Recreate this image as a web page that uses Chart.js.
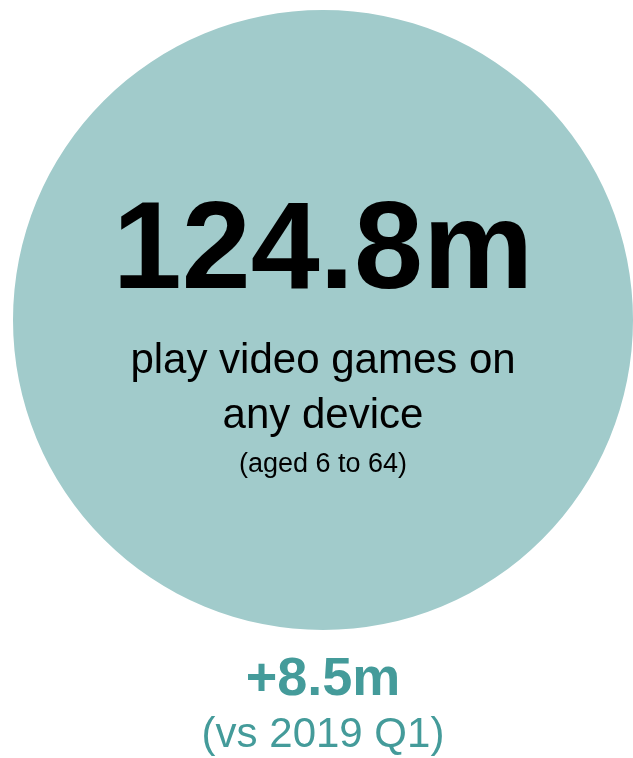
<!DOCTYPE html>
<html>
<head>
<meta charset="utf-8">
<script src="https://cdn.jsdelivr.net/npm/chart.js@4/dist/chart.umd.min.js"></script>
<style>
    html, body { margin: 0; padding: 0; background: #ffffff; }
    #wrap { width: 633px; height: 758px; }
</style>
</head>
<body>
<div id="wrap"><canvas id="chart-players" width="633" height="758"></canvas></div>
<script>
// Oyuncu sayısı (milyon) ve önceki döneme göre değişim
const categories = ["play video games on any device"];
const playerValues = [124.8];
const changeValues = [8.5];
const compareLabel = "2019 Q1";
const labelLines = ["play video games on", "any device"];
const ageNote = "(aged 6 to 64)";

const CIRCLE_COLOR = "#a1cbcb";
const TEAL = "#449b9a";
const FONT = "'Liberation Sans', Arial, sans-serif";

// Daire içindeki ve altındaki yazılar
const centerText = {
    id: "centerText",
    afterDraw(chart) {
        const ctx = chart.ctx;
        const arc = chart.getDatasetMeta(0).data[0];
        const cx = arc.x;
        const cy = arc.y;
        ctx.save();
        ctx.textAlign = "center";
        ctx.textBaseline = "alphabetic";

        ctx.fillStyle = "#000000";
        ctx.font = `bold 124px ${FONT}`;
        ctx.fillText(`${playerValues[0]}m`, cx, cy - 32);

        ctx.font = `42px ${FONT}`;
        ctx.fillText(labelLines[0], cx, cy + 53);
        ctx.fillText(labelLines[1], cx, cy + 108);

        ctx.font = `27px ${FONT}`;
        ctx.fillText(ageNote, cx, cy + 152);

        ctx.fillStyle = TEAL;
        ctx.font = `bold 54px ${FONT}`;
        ctx.fillText(`+${changeValues[0]}m`, cx, cy + 375);

        ctx.font = `42px ${FONT}`;
        ctx.fillText(`(vs ${compareLabel})`, cx, cy + 427);
        ctx.restore();
    }
};

const ctx = document.getElementById("chart-players").getContext("2d");
new Chart(ctx, {
    type: "pie",
    data: {
        labels: categories,
        datasets: [{
            data: playerValues,
            backgroundColor: [CIRCLE_COLOR],
            borderWidth: 0
        }]
    },
    options: {
        responsive: false,
        animation: false,
        layout: { padding: { left: 13, right: 0, top: 10, bottom: 128 } },
        plugins: {
            legend: { display: false },
            tooltip: { enabled: false }
        }
    },
    plugins: [centerText]
});
</script>
</body>
</html>
